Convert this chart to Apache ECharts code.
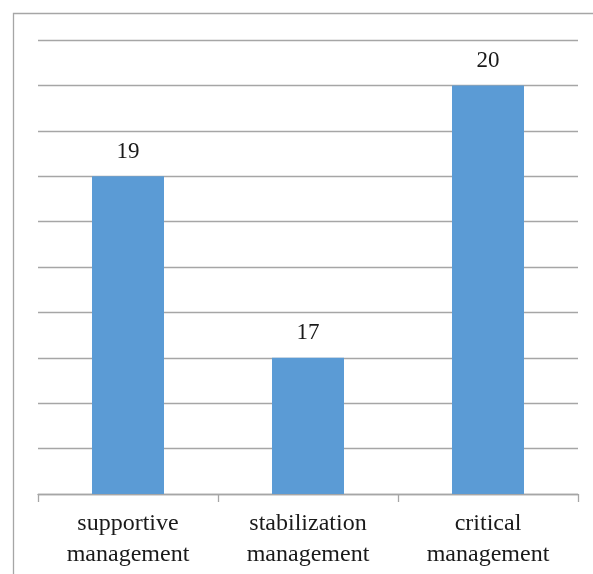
<!DOCTYPE html>
<html><head><meta charset="utf-8">
<script src="https://cdn.jsdelivr.net/npm/echarts@6/dist/echarts.min.js"></script>
<style>html,body{margin:0;padding:0;background:#fff}#c{width:593px;height:574px}</style>
</head><body><div id="c"></div>
<script>
const categories = ['supportive\nmanagement', 'stabilization\nmanagement', 'critical\nmanagement'];
const values = [19, 17, 20];
const yMin = 15.5, yMax = 20.5, yStep = 0.5;

const chart = echarts.init(document.getElementById('c'), null, {renderer: 'canvas'});
chart.setOption({
  animation: false,
  backgroundColor: '#fff',
  graphic: [{
    type: 'rect', left: 11, top: 11,
    shape: {width: 600, height: 600},
    style: {fill: 'none', stroke: '#a6a6a6', lineWidth: 1.3}, silent: true
  }],
  grid: {left: 38, right: 15, top: 40, bottom: 80, containLabel: false},
  xAxis: {
    type: 'category', data: categories,
    axisLine: {lineStyle: {color: '#a6a6a6', width: 1.3}},
    axisTick: {show: true, length: 8, alignWithLabel: false, lineStyle: {color: '#a6a6a6', width: 1.3}},
    axisLabel: {fontFamily: 'Liberation Serif', fontSize: 24, color: '#1a1a1a', lineHeight: 31, margin: 14, interval: 0}
  },
  yAxis: {
    type: 'value', min: yMin, max: yMax, interval: yStep,
    axisLine: {show: false}, axisTick: {show: false}, axisLabel: {show: false},
    splitLine: {lineStyle: {color: '#a6a6a6', width: 1.3}}
  },
  series: [{
    type: 'bar', data: values, barWidth: '40%',
    itemStyle: {color: '#5b9bd5'},
    label: {show: true, position: 'top', distance: 13, fontFamily: 'Liberation Serif', fontSize: 23, color: '#1a1a1a'}
  }]
});
</script></body></html>
